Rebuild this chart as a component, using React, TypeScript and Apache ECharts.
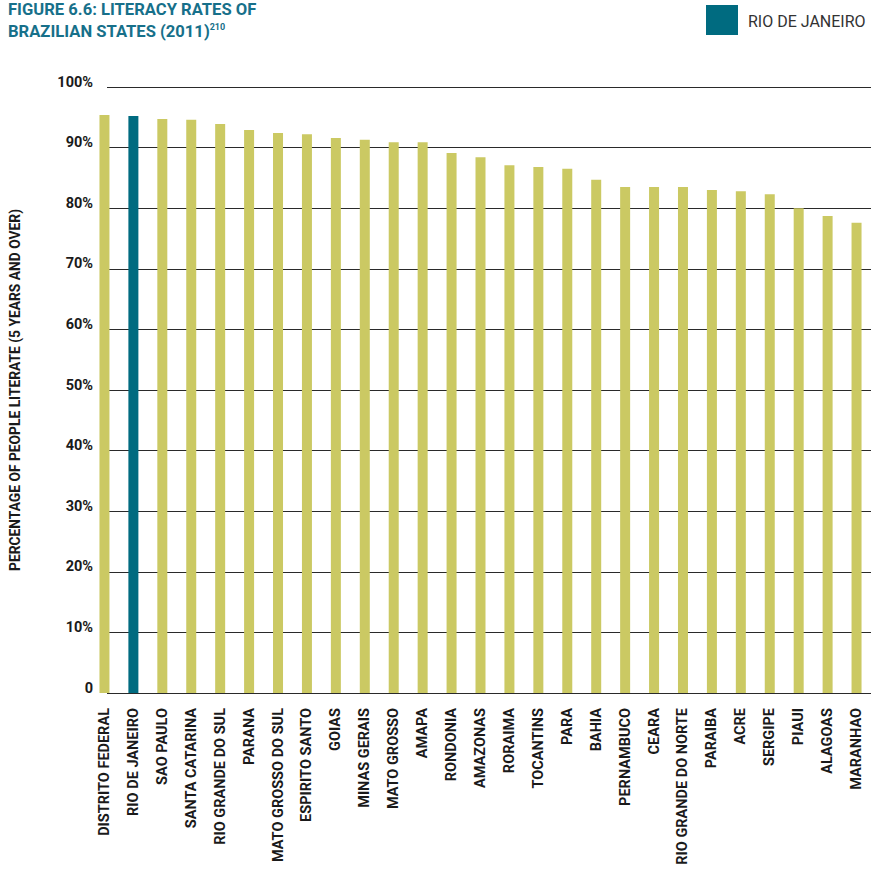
import React, { useEffect, useRef } from "react";
import * as echarts from "echarts";

const states = [
  "DISTRITO FEDERAL", "RIO DE JANEIRO", "SAO PAULO", "SANTA CATARINA", "RIO GRANDE DO SUL",
  "PARANA", "MATO GROSSO DO SUL", "ESPIRITO SANTO", "GOIAS", "MINAS GERAIS", "MATO GROSSO",
  "AMAPA", "RONDONIA", "AMAZONAS", "RORAIMA", "TOCANTINS", "PARA", "BAHIA", "PERNAMBUCO",
  "CEARA", "RIO GRANDE DO NORTE", "PARAIBA", "ACRE", "SERGIPE", "PIAUI", "ALAGOAS", "MARANHAO",
];
const literacy = [
  95.4, 95.2, 94.7, 94.6, 93.9, 92.9, 92.4, 92.2, 91.6, 91.3, 90.9, 90.9, 89.1, 88.4,
  87.1, 86.8, 86.5, 84.7, 83.5, 83.5, 83.5, 83.0, 82.8, 82.3, 80.0, 78.7, 77.6,
];
const highlight = "RIO DE JANEIRO";
const yTicks = [0, 10, 20, 30, 40, 50, 60, 70, 80, 90, 100];

const OLIVE = "#cbc963";
const TEAL = "#006b80";
const FONT = "Roboto";

export default function App() {
  const ref = useRef<HTMLDivElement>(null);
  useEffect(() => {
    if (!ref.current) return;
    const chart = echarts.init(ref.current, null, { renderer: "svg" });
    chart.setOption({
      animation: false,
      backgroundColor: "#ffffff",
      textStyle: { fontFamily: FONT },
      grid: [
        { left: 90, width: 790, top: 87, bottom: 177 },
        { left: 100, right: 0, top: 87, bottom: 177 },
      ],
      xAxis: [
        {
          type: "category",
          gridIndex: 0,
          data: states,
          axisLine: { show: false },
          axisTick: { show: false },
          axisLabel: {
            rotate: 90,
            interval: 0,
            margin: 15,
            fontFamily: FONT,
            fontWeight: "bold",
            fontSize: 14.5,
            color: "#1a1a1a",
          },
        },
        { type: "value", gridIndex: 1, show: false, min: 0, max: 1 },
      ],
      yAxis: [
        { type: "value", gridIndex: 0, min: 0, max: 100, show: false },
        {
          type: "value",
          gridIndex: 1,
          min: 0,
          max: 100,
          interval: 10,
          axisLine: { show: false },
          axisTick: { show: false },
          splitLine: { show: true, lineStyle: { color: "#2a2a2a", width: 1 } },
          axisLabel: {
            margin: 14,
            fontFamily: FONT,
            fontWeight: "bold",
            fontSize: 14.5,
            color: "#1a1a1a",
            verticalAlign: "bottom",
            lineHeight: 10,
            formatter: (v: number) => (yTicks.includes(v) && v !== 0 ? v + "%" : "0"),
          },
          name: "PERCENTAGE OF PEOPLE LITERATE (5 YEARS AND OVER)",
          nameLocation: "middle",
          nameGap: 85,
          nameRotate: 90,
          nameTextStyle: {
            fontFamily: FONT,
            fontWeight: "bold",
            fontSize: 13.8,
            color: "#1a1a1a",
          },
        },
      ],
      series: [
        {
          type: "bar",
          xAxisIndex: 0,
          yAxisIndex: 0,
          barWidth: 10,
          data: literacy.map((v, i) => ({
            value: v,
            itemStyle: { color: states[i] === highlight ? TEAL : OLIVE },
          })),
        },
      ],
      graphic: [
        {
          type: "text",
          left: 8,
          top: 1,
          style: {
            text: "{a|FIGURE 6.6: LITERACY RATES OF}\n{a|BRAZILIAN STATES (2011)}{s|210}",
            rich: {
              a: { fontFamily: FONT, fontWeight: "bold", fontSize: 16.6, fill: "#17708a", lineHeight: 22 },
              s: { fontFamily: FONT, fontWeight: "bold", fontSize: 9, fill: "#17708a", padding: [0, 0, 9, 0] },
            },
          },
        },
        {
          type: "rect",
          shape: { x: 706, y: 5, width: 32, height: 30 },
          style: { fill: TEAL },
        },
        {
          type: "text",
          x: 748,
          y: 21,
          style: {
            text: "RIO DE JANEIRO",
            fontFamily: FONT,
            fontSize: 16,
            fill: "#333333",
            verticalAlign: "middle",
          },
        },
      ],
    });
    return () => chart.dispose();
  }, []);
  return <div ref={ref} style={{ width: 871, height: 870, position: "absolute", left: 0, top: 0 }} />;
}
